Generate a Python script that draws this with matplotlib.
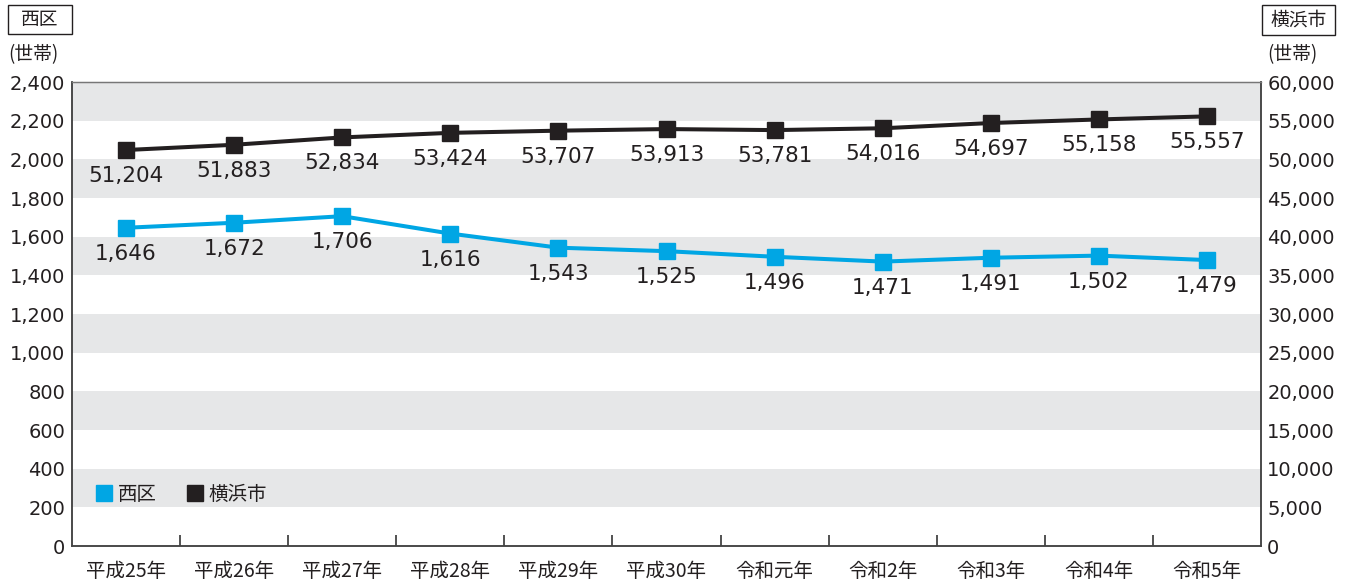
import matplotlib
matplotlib.use("Agg")
import matplotlib.pyplot as plt
from matplotlib.lines import Line2D
from matplotlib.patches import Rectangle

plt.rcParams['font.family'] = ['DejaVu Sans', 'Noto Sans CJK JP']
CJK = ['Noto Sans CJK JP', 'DejaVu Sans']

categories = ["平成25年", "平成26年", "平成27年", "平成28年", "平成29年", "平成30年",
              "令和元年", "令和2年", "令和3年", "令和4年", "令和5年"]
nishi = [1646, 1672, 1706, 1616, 1543, 1525, 1496, 1471, 1491, 1502, 1479]
yokohama = [51204, 51883, 52834, 53424, 53707, 53913, 53781, 54016, 54697, 55158, 55557]
left_ticks = list(range(0, 2401, 200))
right_ticks = list(range(0, 60001, 5000))

BLUE = "#00a6e4"
BLACK = "#231f20"
BAND = "#e6e7e8"
TXT = "#231f20"

W, H = 1351, 587
fig = plt.figure(figsize=(W / 100, H / 100), dpi=100)
ax = fig.add_axes([72 / W, (H - 546) / H, (1261 - 72) / W, (546 - 82) / H])
ax2 = ax.twinx()

x = list(range(len(categories)))
ax.set_xlim(-0.5, len(categories) - 0.5)
ax.set_ylim(0, 2400)
ax2.set_ylim(0, 60000)

# bands
for lo in range(200, 2400, 400):
    ax.axhspan(lo, lo + 200, color=BAND, lw=0, zorder=0)

ax.plot(x, nishi, color=BLUE, lw=2.9, marker='s', ms=11, zorder=3)
ax2.plot(x, yokohama, color=BLACK, lw=2.9, marker='s', ms=11, zorder=3)

for xi, v in zip(x, nishi):
    ax.annotate(f"{v:,}", (xi, v), xytext=(0, -26), textcoords='offset pixels',
                ha='center', va='center', fontsize=15.5, color=TXT, zorder=4)
for xi, v in zip(x, yokohama):
    ax2.annotate(f"{v:,}", (xi, v), xytext=(0, -26), textcoords='offset pixels',
                 ha='center', va='center', fontsize=15.5, color=TXT, zorder=4)

ax.set_yticks(left_ticks)
ax.set_yticklabels([f"{t:,}" for t in left_ticks], fontsize=14, color=TXT)
ax2.set_yticks(right_ticks)
ax2.set_yticklabels([f"{t:,}" for t in right_ticks], fontsize=14, color=TXT)
ax.tick_params(axis='y', length=0, pad=5)
ax2.tick_params(axis='y', length=0, pad=4.5)

ax.set_xticks(x)
ax.set_xticklabels(categories, fontsize=14, color=TXT, family=CJK)
ax.tick_params(axis='x', which='major', length=0, pad=11)
ax.set_xticks([i + 0.5 for i in x[:-1]], minor=True)
ax.tick_params(axis='x', which='minor', direction='in', length=8, width=1.3, color="#444444")

for a in (ax, ax2):
    for s in ('left', 'bottom', 'right'):
        a.spines[s].set_color("#444444")
        a.spines[s].set_linewidth(1.1)
    a.spines['top'].set_color("#777777")
    a.spines['top'].set_linewidth(0.9)
ax.set_zorder(2)
ax2.set_zorder(3)
ax2.patch.set_visible(False)

handles = [Line2D([], [], marker='s', ls='none', color=BLUE, ms=11),
           Line2D([], [], marker='s', ls='none', color=BLACK, ms=11)]
leg = ax2.legend(handles, ["西区", "横浜市"], loc='center left',
                 bbox_to_anchor=(96 / W, (H - 494) / H),
                 bbox_transform=fig.transFigure, ncol=2, frameon=False,
                 prop=dict(family=CJK, size=14), borderpad=0, borderaxespad=0,
                 handletextpad=0.3, columnspacing=1.6, handlelength=0.8, labelcolor=TXT)

# boxed titles
fig.patches.append(Rectangle((8 / W, 1 - 34 / H), 64 / W, 29 / H, transform=fig.transFigure,
                             fc='white', ec=TXT, lw=1.0))
fig.text(40 / W, 1 - 19.5 / H, "西区", ha='center', va='center', fontsize=13.5, color=TXT,
         family=CJK)
fig.patches.append(Rectangle((1262 / W, 1 - 35 / H), 73 / W, 30 / H, transform=fig.transFigure,
                             fc='white', ec=TXT, lw=1.0))
fig.text(1298.5 / W, 1 - 20 / H, "横浜市", ha='center', va='center', fontsize=13.5, color=TXT,
         family=CJK)
fig.text(8 / W, 1 - 55 / H, "(世帯)", ha='left', va='center', fontsize=13.5, color=TXT,
         family=CJK)
fig.text(1267 / W, 1 - 55 / H, "(世帯)", ha='left', va='center', fontsize=13.5, color=TXT,
         family=CJK)

fig.savefig("out.png", dpi=100)
